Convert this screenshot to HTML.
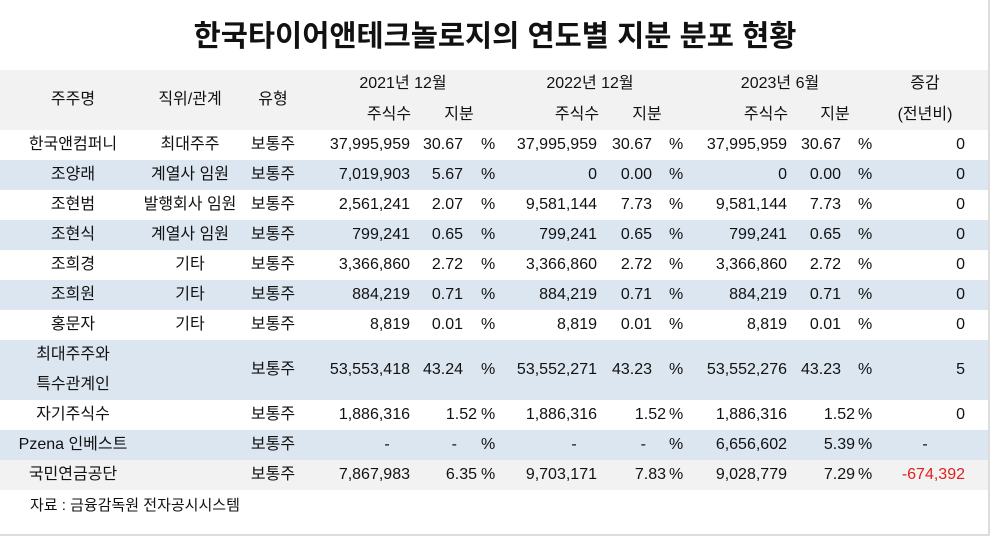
<!DOCTYPE html>
<html><head><meta charset="utf-8"><style>
body{margin:0;width:990px;height:536px;background:#fff;overflow:hidden;position:relative;font-family:"Liberation Sans","Noto Sans CJK KR",sans-serif;font-size:16px;color:#111}
.t{position:absolute;white-space:nowrap;line-height:20px}
.c{transform:translateX(-50%)}
.r{transform:translateX(-100%)}
.band{position:absolute;left:0;width:988px}
</style></head><body>
<div class="t c" style="left:495px;top:20px;font-size:29.5px;font-weight:bold;line-height:34px">한국타이어앤테크놀로지의 연도별 지분 분포 현황</div>
<div class="band" style="top:70px;height:60px;background:#f2f2f2"></div>
<div class="band" style="top:160px;height:30px;background:#dce6f1"></div>
<div class="band" style="top:220px;height:30px;background:#dce6f1"></div>
<div class="band" style="top:280px;height:30px;background:#dce6f1"></div>
<div class="band" style="top:340px;height:60px;background:#dce6f1"></div>
<div class="band" style="top:430px;height:30px;background:#dce6f1"></div>
<div class="band" style="top:460px;height:30px;background:#f2f2f2"></div>
<div style="position:absolute;right:0;top:0;width:2px;height:536px;background:#ddd"></div>
<div style="position:absolute;left:0;bottom:0;width:990px;height:2px;background:#ddd"></div>
<div id="g"></div>
<div class="t" style="left:30px;top:496px;font-size:15px">자료 : 금융감독원 전자공시시스템</div>
<script>
const g=document.getElementById('g');
function a(x,y,s,cls,col){const d=document.createElement('div');d.className='t '+(cls||'');d.style.left=x+'px';d.style.top=(y-10)+'px';if(col)d.style.color=col;d.textContent=s;g.appendChild(d);}
a(73,100,'주주명','c');a(190,100,'직위/관계','c');a(273,100,'유형','c');
a(403,84,'2021년 12월','c');a(590,84,'2022년 12월','c');a(780,84,'2023년 6월','c');
a(389,115,'주식수','c');a(459,115,'지분','c');a(577,115,'주식수','c');a(647,115,'지분','c');a(766,115,'주식수','c');a(835,115,'지분','c');
a(925,84,'증감','c');a(925,115,'(전년비)','c');
const rows=[
['한국앤컴퍼니','최대주주','37,995,959','30.67','37,995,959','30.67','37,995,959','30.67','0',1],
['조양래','계열사 임원','7,019,903','5.67','0','0.00','0','0.00','0',1],
['조현범','발행회사 임원','2,561,241','2.07','9,581,144','7.73','9,581,144','7.73','0',1],
['조현식','계열사 임원','799,241','0.65','799,241','0.65','799,241','0.65','0',1],
['조희경','기타','3,366,860','2.72','3,366,860','2.72','3,366,860','2.72','0',1],
['조희원','기타','884,219','0.71','884,219','0.71','884,219','0.71','0',1],
['홍문자','기타','8,819','0.01','8,819','0.01','8,819','0.01','0',1],
['최대주주와\n특수관계인','','53,553,418','43.24','53,552,271','43.23','53,552,276','43.23','5',1],
['자기주식수','','1,886,316','1.52','1,886,316','1.52','1,886,316','1.52','0',0],
['Pzena 인베스트','','-','-','-','-','6,656,602','5.39','-',0],
['국민연금공단','','7,867,983','6.35','9,703,171','7.83','9,028,779','7.29','-674,392',0]];
let y=145;
rows.forEach((r,i)=>{let cy=y;if(i==7){cy=370;a(73,355,'최대주주와','c');a(73,385,'특수관계인','c');}else a(73,cy,r[0],'c');
if(r[1])a(190,cy,r[1],'c');a(273,cy,'보통주','c');
const sp=r[9];const S=[410,597,787],P=[sp?463:477,sp?652:666,sp?841:855],Q=[481,669,858];
for(let k=0;k<3;k++){let sh=r[2+2*k],pc=r[3+2*k];
if(sh=='-'){a(S[k]-23,cy,'-','c');}else a(S[k],cy,sh,'r');
if(pc=='-'){a(P[k]-20,cy,'-','r');a(Q[k],cy,'%');}else{a(P[k],cy,pc,'r');a(Q[k],cy,'%');}}
if(r[8]=='-')a(925,cy,'-','c');else a(965,cy,r[8],'r',r[8].startsWith('-')?'#e02020':null);
y+=30; if(i==7)y=415;});
</script>
</body></html>
